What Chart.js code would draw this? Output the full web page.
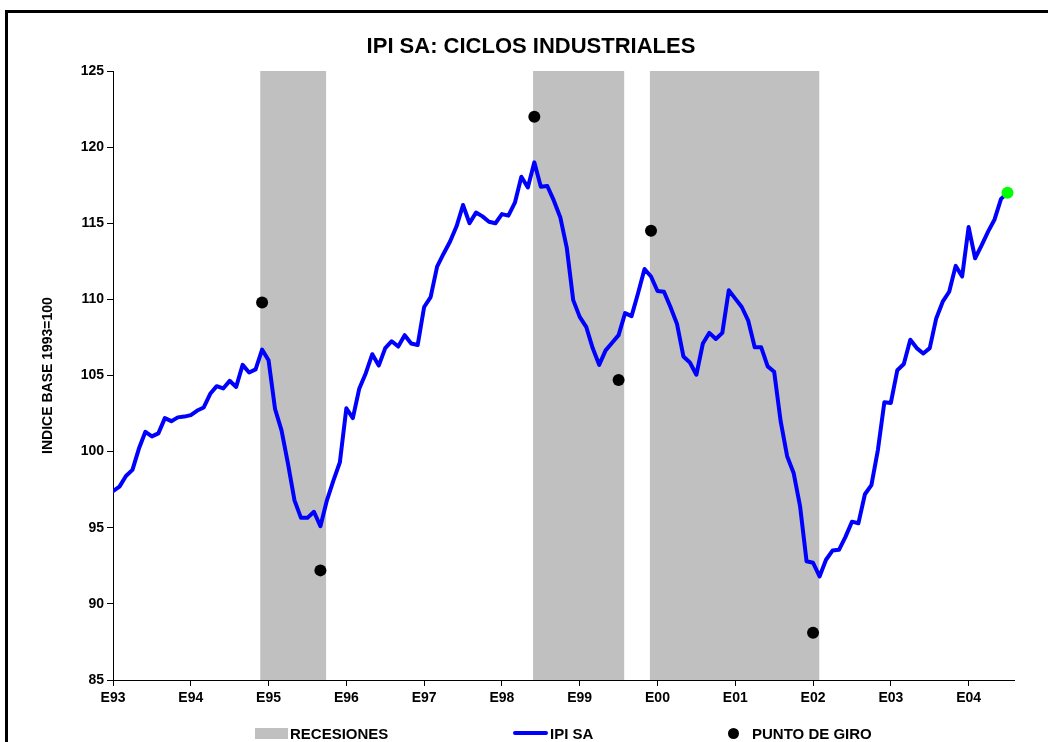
<!DOCTYPE html>
<html>
<head>
<meta charset="utf-8">
<title>IPI SA: CICLOS INDUSTRIALES</title>
<script src="https://cdn.jsdelivr.net/npm/chart.js@4.4.1/dist/chart.umd.min.js"></script>
<style>
  html, body { margin: 0; padding: 0; background: #fff; overflow: hidden; }
  #wrap { position: relative; width: 1048px; height: 742px; overflow: hidden; }
  #frame { position: absolute; left: 5px; top: 10px; width: 1100px; height: 800px; border: 3px solid #000; pointer-events: none; }
  .lg-sym { position: absolute; }
  .lg-txt { position: absolute; top: 725px; line-height: 16px; font: bold 15px "Liberation Sans", Arial, sans-serif; color: #000; white-space: nowrap; }
</style>
</head>
<body>
<div id="wrap">
  <canvas id="ipiChart" width="1048" height="742"></canvas>
  <div id="legend"></div>
  <div id="frame"></div>
</div>
<script>
// etiquetas de enero de cada año (eje x en meses desde ene-1993)
const tickLabels = ['E93', 'E94', 'E95', 'E96', 'E97', 'E98', 'E99', 'E00', 'E01', 'E02', 'E03', 'E04'];

// IPI SA mensual, ene-1993 .. jul-2004
const ipi = [
  97.4, 97.7, 98.4, 98.8, 100.2, 101.3, 101.0, 101.2, 102.2, 102.0, 102.25, 102.3,
  102.4, 102.7, 102.9, 103.8, 104.3, 104.15, 104.65, 104.25, 105.7, 105.2, 105.4, 106.7,
  106.0, 102.8, 101.4, 99.2, 96.8, 95.65, 95.65, 96.05, 95.1, 96.8, 98.1, 99.3,
  102.85, 102.2, 104.15, 105.15, 106.4, 105.65, 106.8, 107.25, 106.9, 107.65, 107.1, 107.0,
  109.5, 110.15, 112.15, 113.0, 113.8, 114.8, 116.2, 115.0, 115.7, 115.45, 115.1, 115.0,
  115.6, 115.5, 116.35, 118.05, 117.35, 119.0, 117.4, 117.45, 116.5, 115.4, 113.4, 109.95,
  108.85, 108.2, 106.8, 105.7, 106.65, 107.15, 107.65, 109.1, 108.9, 110.4, 112.0, 111.5,
  110.55, 110.5, 109.5, 108.4, 106.25, 105.85, 105.05, 107.1, 107.8, 107.4, 107.8, 110.6,
  110.05, 109.5, 108.6, 106.85, 106.85, 105.6, 105.25, 102.0, 99.7, 98.6, 96.4, 92.8,
  92.7, 91.8, 92.9, 93.5, 93.55, 94.4, 95.4, 95.3, 97.2, 97.8, 100.1, 103.25,
  103.2, 105.35, 105.75, 107.35, 106.8, 106.45, 106.8, 108.75, 109.85, 110.5, 112.2, 111.5,
  114.75, 112.7, 113.55, 114.45, 115.25, 116.6, 117.0
];

// puntos de giro (mes, valor)
const turnMonths = [23, 32, 65, 78, 83, 108];
const turnValues = [109.8, 92.2, 122.0, 104.7, 114.5, 88.1];

// recesiones (inicio / fin, en meses)
const recStart = [22.7, 64.8, 82.8];
const recEnd = [32.9, 78.9, 109.0];

const FONT = '"Liberation Sans", Arial, sans-serif';
const Y_MIN = 85, Y_MAX = 125;

const recData = [];
recStart.forEach((s, i) => {
  recData.push({ x: s, y: Y_MAX }, { x: recEnd[i], y: Y_MAX }, { x: recEnd[i], y: null });
});

const ctx = document.getElementById('ipiChart');

const chart = new Chart(ctx, {
  data: {
    datasets: [
      {
        type: 'line',
        label: 'RECESIONES',
        data: recData,
        backgroundColor: '#c0c0c0',
        borderColor: 'rgba(0,0,0,0)',
        borderWidth: 0,
        pointRadius: 0,
        fill: 'start',
        spanGaps: false,
        order: 3
      },
      {
        type: 'line',
        label: 'IPI SA',
        data: ipi.map((v, i) => ({ x: i, y: v })),
        borderColor: '#0000ff',
        borderWidth: 4,
        borderJoinStyle: 'round',
        borderCapStyle: 'round',
        tension: 0,
        fill: false,
        pointRadius: c => (c.dataIndex === ipi.length - 1 ? 6 : 0),
        pointBackgroundColor: '#00ff00',
        pointBorderWidth: 0,
        order: 1
      },
      {
        type: 'line',
        label: 'PUNTO DE GIRO',
        data: turnMonths.map((m, i) => ({ x: m, y: turnValues[i] })),
        showLine: false,
        pointRadius: 6,
        pointBackgroundColor: '#000',
        pointBorderWidth: 0,
        order: 0
      }
    ]
  },
  options: {
    responsive: false,
    animation: false,
    events: [],
    layout: { padding: { left: 48, right: 34, top: 0, bottom: 0 } },
    plugins: {
      title: {
        display: true,
        text: 'IPI SA: CICLOS INDUSTRIALES',
        color: '#000',
        font: { family: FONT, size: 22, weight: 'bold' },
        padding: { top: 34, bottom: 10.6 }
      },
      legend: { display: false },
      tooltip: { enabled: false }
    },
    scales: {
      x: {
        type: 'linear',
        min: 0,
        max: 139,
        afterBuildTicks: s => { s.ticks = s.ticks.filter(t => t.value % 12 === 0); },
        afterFit: s => { s.height = 62; },
        ticks: {
          stepSize: 12,
          autoSkip: false,
          maxRotation: 0,
          padding: 4,
          color: '#000',
          font: { family: FONT, size: 14, weight: 'bold' },
          callback: v => tickLabels[v / 12]
        },
        grid: { drawOnChartArea: false, color: '#000', tickLength: 6 },
        border: { color: '#000', width: 1 }
      },
      y: {
        min: Y_MIN,
        max: Y_MAX,
        afterFit: s => { s.width = 65; },
        ticks: {
          stepSize: 5,
          padding: 3,
          color: '#000',
          font: { family: FONT, size: 14, weight: 'bold' }
        },
        title: {
          display: true,
          text: 'INDICE BASE 1993=100',
          color: '#000',
          font: { family: FONT, size: 14, weight: 'bold' },
          padding: { top: -8, bottom: 0 }
        },
        grid: { drawOnChartArea: false, color: '#000', tickLength: 6 },
        border: { color: '#000', width: 1 }
      }
    }
  }
});

// leyenda inferior, a partir de los datasets
const legendPos = [
  { sym: { left: 255, top: 728, width: 33, height: 11 }, text: 290 },
  { sym: { left: 513, top: 731, width: 35, height: 4, borderRadius: 2 }, text: 550 },
  { sym: { left: 728, top: 728, width: 11, height: 11, borderRadius: 6 }, text: 752 }
];
const legendEl = document.getElementById('legend');
chart.data.datasets.forEach((ds, i) => {
  const p = legendPos[i];
  const sym = document.createElement('div');
  sym.className = 'lg-sym';
  sym.style.left = p.sym.left + 'px';
  sym.style.top = p.sym.top + 'px';
  sym.style.width = p.sym.width + 'px';
  sym.style.height = p.sym.height + 'px';
  sym.style.borderRadius = (p.sym.borderRadius || 0) + 'px';
  sym.style.background = i === 0 ? ds.backgroundColor : i === 1 ? ds.borderColor : ds.pointBackgroundColor;
  const txt = document.createElement('span');
  txt.className = 'lg-txt';
  txt.style.left = p.text + 'px';
  txt.textContent = ds.label;
  legendEl.append(sym, txt);
});
</script>
</body>
</html>
